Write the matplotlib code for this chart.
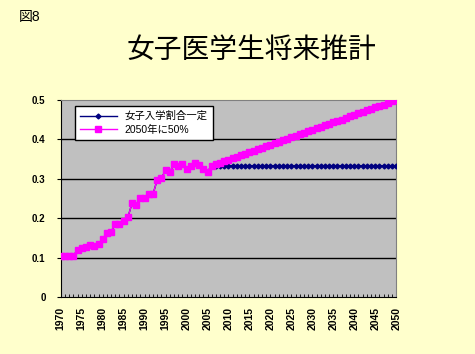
import matplotlib
matplotlib.use("Agg")
import matplotlib.pyplot as plt

plt.rcParams['font.family'] = ['Liberation Sans', 'Noto Sans CJK JP', 'DejaVu Sans']

# observed ratio of female medical students, 1970-2005
hist_years = list(range(1970, 2006))
hist_vals = [0.105, 0.105, 0.105, 0.105, 0.119, 0.124, 0.128, 0.132, 0.130, 0.134,
             0.147, 0.162, 0.166, 0.185, 0.185, 0.193, 0.202, 0.238, 0.233, 0.250,
             0.250, 0.261, 0.261, 0.297, 0.301, 0.322, 0.316, 0.338, 0.332, 0.338,
             0.324, 0.332, 0.341, 0.335, 0.325, 0.318]

# projections 2006-2050
proj_years = list(range(2006, 2051))
const_vals = [0.333, 0.333, 0.333, 0.333, 0.333, 0.333, 0.333, 0.333, 0.333, 0.333,
              0.333, 0.333, 0.333, 0.333, 0.333, 0.333, 0.333, 0.333, 0.333, 0.333,
              0.333, 0.333, 0.333, 0.333, 0.333, 0.333, 0.333, 0.333, 0.333, 0.333,
              0.333, 0.333, 0.333, 0.333, 0.333, 0.333, 0.333, 0.333, 0.333, 0.333,
              0.333, 0.333, 0.333, 0.333, 0.333]
rise_vals = [0.333, 0.337, 0.341, 0.344, 0.348, 0.352, 0.356, 0.360, 0.363, 0.367,
             0.371, 0.375, 0.379, 0.382, 0.386, 0.390, 0.394, 0.397, 0.401, 0.405,
             0.409, 0.413, 0.416, 0.420, 0.424, 0.428, 0.432, 0.435, 0.439, 0.443,
             0.447, 0.450, 0.454, 0.458, 0.462, 0.466, 0.469, 0.473, 0.477, 0.481,
             0.485, 0.488, 0.492, 0.496, 0.500]

labels = ['女子入学割合一定', '2050年に50%']
tick_years = list(range(1970, 2051, 5))
y_ticks = [0, 0.1, 0.2, 0.3, 0.4, 0.5]
y_tick_labels = ['0', '0.1', '0.2', '0.3', '0.4', '0.5']

bg = '#FFFFCC'
fig = plt.figure(figsize=(4.75, 3.54), dpi=100, facecolor=bg)
ax = fig.add_axes([0.128, 0.161, 0.706, 0.557])
ax.set_facecolor('#C0C0C0')

years = hist_years + proj_years
ax.plot(years, hist_vals + const_vals, color='#000080', lw=1,
        marker='D', ms=2.5, label=labels[0], zorder=3)
ax.plot(years, hist_vals + rise_vals, color='#FF00FF', lw=1,
        marker='s', ms=3.8, label=labels[1], zorder=4)

ax.set_xlim(1970, 2050)
ax.set_ylim(0, 0.5)
ax.set_yticks(y_ticks)
ax.set_yticklabels(y_tick_labels, fontsize=7, fontweight='bold')
ax.set_xticks(tick_years)
ax.set_xticklabels([str(y) for y in tick_years], rotation=90,
                   fontsize=7.5, fontweight='bold')
ax.set_xticks(range(1970, 2051), minor=True)
ax.tick_params(axis='x', which='both', direction='in', length=2, width=0.6, pad=7)
ax.tick_params(axis='y', length=3, width=0.8, pad=8)

for v in y_ticks[1:-1]:
    ax.axhline(v, color='black', lw=1, zorder=1)

for side in ['top', 'right']:
    ax.spines[side].set_color('#808080')
for side in ['left', 'bottom']:
    ax.spines[side].set_color('black')

leg = ax.legend(loc='upper left', bbox_to_anchor=(0.042, 0.97), borderaxespad=0,
                fontsize=7.5, frameon=True, fancybox=False, edgecolor='black',
                handlelength=3.5, borderpad=0.5, labelspacing=0.35)
leg.get_frame().set_linewidth(1)
leg.get_frame().set_facecolor('white')
leg.get_frame().set_alpha(1)

fig.text(0.04, 0.952, '図8', fontsize=10, va='center')
fig.text(0.53, 0.855, '女子医学生将来推計', fontsize=20, ha='center', va='center')

fig.savefig('out.png', dpi=100, facecolor=bg)
